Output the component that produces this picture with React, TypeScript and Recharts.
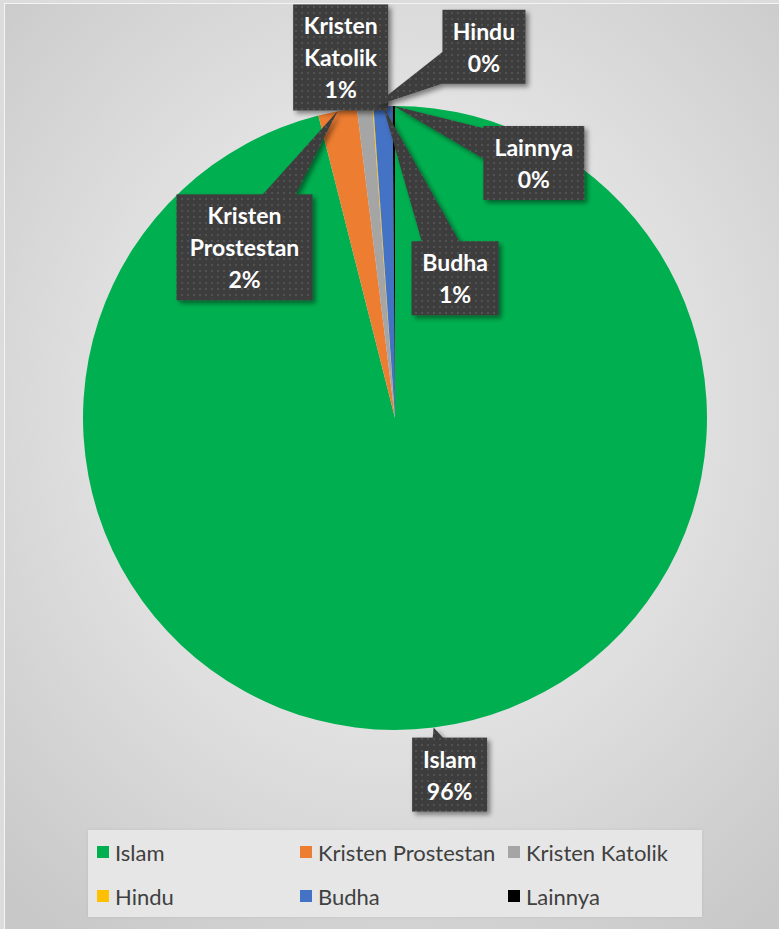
import { PieChart, Pie, Cell } from 'recharts';

const names = ['Islam', 'Kristen Prostestan', 'Kristen Katolik', 'Hindu', 'Budha', 'Lainnya'];
const values = [96.05, 2.0, 0.8, 0.05, 0.98, 0.12];
const colors = ['#00B050', '#ED7D31', '#A5A5A5', '#FFC000', '#4472C4', '#000000'];

const data = names.map((name, i) => ({ name, value: values[i] }));

// callout box placement relative to the slice edge point
const callouts = [
  { dx: 16, dy: 47, w: 75 },
  { dx: -93, dy: 136, w: 136 },
  { dx: -24, dy: -50, w: 95 },
  { dx: 111, dy: -60, w: 83 },
  { dx: 72, dy: 172, w: 87 },
  { dx: 140, dy: 57, w: 101 },
];

const RAD = Math.PI / 180;
const LINE_H = 32;

const renderCallout = (props: any) => {
  const { cx, cy, midAngle, outerRadius, percent, index } = props;
  const c = callouts[index];
  const tx = cx + outerRadius * Math.cos(-midAngle * RAD);
  const ty = cy + outerRadius * Math.sin(-midAngle * RAD);
  const lines = [...names[index].split(' '), `${Math.round(percent * 100)}%`];
  const h = lines.length * LINE_H + 10;
  const bx = tx + c.dx;
  const by = ty + c.dy;
  const len = Math.hypot(tx - bx, ty - by) || 1;
  const px = -(ty - by) / len;
  const py = (tx - bx) / len;
  const hw = 22;
  const pointer = `${bx + px * hw},${by + py * hw} ${tx},${ty} ${bx - px * hw},${by - py * hw}`;
  const firstY = by - ((lines.length - 1) * LINE_H) / 2;
  return (
    <g key={`callout-${index}`}>
      <g filter="url(#calloutShadow)">
        <polygon points={pointer} fill="url(#dotFill)" />
        <rect x={bx - c.w / 2} y={by - h / 2} width={c.w} height={h} fill="url(#dotFill)" />
      </g>
      {lines.map((t, i) => (
        <text
          key={i}
          x={bx}
          y={firstY + i * LINE_H}
          textAnchor="middle"
          dominantBaseline="central"
          fill="#ffffff"
          fontFamily="Lato, 'Open Sans', sans-serif"
          fontWeight={700}
          fontSize={23}
        >
          {t}
        </text>
      ))}
    </g>
  );
};

const App = () => {
  return (
    <div style={{ position: 'absolute', left: 0, top: 0, width: 779, height: 929, background: '#dcdcdc', overflow: 'hidden' }}>
      <svg width={0} height={0} style={{ position: 'absolute' }}>
        <defs>
          <pattern id="dotFill" patternUnits="userSpaceOnUse" width={6} height={6}>
            <rect width={6} height={6} fill="#3d3d3d" />
            <circle cx={3} cy={3} r={0.9} fill="#5a5a5a" />
          </pattern>
          <filter id="calloutShadow" x="-30%" y="-30%" width="160%" height="160%">
            <feDropShadow dx={3} dy={3} stdDeviation={2.5} floodColor="#000" floodOpacity={0.45} />
          </filter>
        </defs>
      </svg>
      <div
        style={{
          position: 'absolute',
          left: 4,
          top: 3,
          width: 775,
          height: 926,
          borderLeft: '1px solid #f4f4f4',
          borderTop: '1px solid #f4f4f4',
          boxSizing: 'border-box',
          background: 'radial-gradient(ellipse 75% 70% at 51% 44%, #f0f0f0 0%, #e3e3e3 45%, #c8c8c8 100%)',
        }}
      >
        <PieChart width={775} height={926} margin={{ top: 0, right: 0, bottom: 0, left: 0 }}>
          <Pie
            data={data}
            dataKey="value"
            nameKey="name"
            cx={390}
            cy={414}
            outerRadius={312}
            startAngle={90}
            endAngle={-270}
            stroke="none"
            labelLine={false}
            label={renderCallout}
            isAnimationActive={false}
          >
            {data.map((d, i) => (
              <Cell key={d.name} fill={colors[i]} />
            ))}
          </Pie>
        </PieChart>
        <div
          style={{
            position: 'absolute',
            left: 83,
            top: 826,
            width: 614,
            height: 87,
            background: '#e6e6e6',
            boxShadow: '0 0 3px rgba(0,0,0,0.08)',
            display: 'grid',
            gridTemplateColumns: '203px 208px 1fr',
            gridAutoRows: '44px',
            paddingLeft: 9,
            boxSizing: 'border-box',
            fontFamily: "Lato, 'Open Sans', sans-serif",
            fontSize: 22,
            color: '#404040',
          }}
        >
          {names.map((n, i) => (
            <div key={n} style={{ display: 'flex', alignItems: 'center', whiteSpace: 'nowrap' }}>
              <span style={{ width: 12, height: 12, background: colors[i], marginRight: 6, flexShrink: 0 }} />
              <span>{n}</span>
            </div>
          ))}
        </div>
      </div>
    </div>
  );
};

export default App;
